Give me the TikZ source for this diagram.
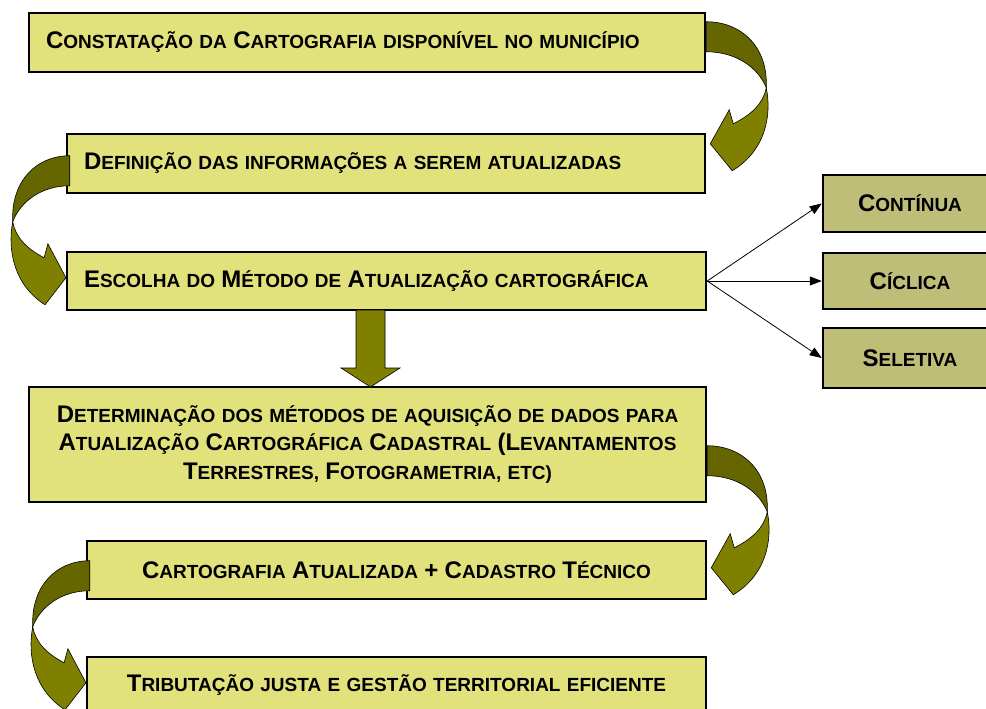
\documentclass[tikz,border=0pt]{standalone}
\usepackage{fontspec}
\setmainfont{Liberation Sans}
\usetikzlibrary{arrows.meta,calc}
\definecolor{boxyellow}{RGB}{226,226,124}
\definecolor{boxolive}{RGB}{190,190,120}
\definecolor{arrdark}{RGB}{102,102,0}
\definecolor{arrlight}{RGB}{128,128,0}
\newcommand\Bg[1]{{\fontsize{24}{28}\selectfont #1}}
\tikzset{
  curvarrow/.pic={
    \filldraw[fill=arrdark, draw=black, line width=0.6pt]
      (0,0) .. controls (35,0) and (62,25) .. (60,66)
      .. controls (52,46) and (30,30) .. (0,30) -- cycle;
    \filldraw[fill=arrlight, draw=black, line width=0.6pt]
      (60,66) .. controls (66,95) and (58,130) .. (26,149)
      -- (4,122) -- (23,88) -- (27,102)
      .. controls (45,93) and (57,82) .. (60,66) -- cycle;
  }
}
\begin{document}
\begin{tikzpicture}[x=1pt,y=-1pt,
  box/.style={draw=black, line width=2.5pt, fill=boxyellow, inner xsep=17pt, inner ysep=0pt,
    font=\fontsize{19}{28.5}\selectfont\bfseries},
  sbox/.style={draw=black, line width=2.5pt, fill=boxolive, minimum width=174pt, inner sep=0pt,
    font=\fontsize{19}{28.5}\selectfont\bfseries, align=center},
  conn/.style={-{Triangle[length=12pt,width=9pt]}, line width=0.8pt}
  ]
\useasboundingbox (0,0) rectangle (986,709);
\clip (0,0) rectangle (986,709);

\node[box, text width=642pt, minimum height=59pt, align=left] (b1) at (367,42.5)
  {\Bg{C}ONSTATAÇÃO DA \Bg{C}ARTOGRAFIA DISPONÍVEL NO MUNICÍPIO};
\node[box, text width=604pt, minimum height=59pt, align=left] (b2) at (386,163.5)
  {\Bg{D}EFINIÇÃO DAS INFORMAÇÕES A SEREM ATUALIZADAS};
\node[box, text width=605pt, minimum height=58pt, align=left] (b3) at (386.5,281)
  {\Bg{E}SCOLHA DO \Bg{M}ÉTODO DE \Bg{A}TUALIZAÇÃO CARTOGRÁFICA};
\node[box, text width=643pt, minimum height=115pt, align=center] (b4) at (367.5,444.5)
  {\Bg{D}ETERMINAÇÃO DOS MÉTODOS DE AQUISIÇÃO DE DADOS PARA\\
   \Bg{A}TUALIZAÇÃO \Bg{C}ARTOGRÁFICA \Bg{C}ADASTRAL \Bg{(L}EVANTAMENTOS\\
   \Bg{T}ERRESTRES, \Bg{F}OTOGRAMETRIA, ETC)};
\node[box, text width=585pt, minimum height=58pt, align=center] (b5) at (396.5,570)
  {\Bg{C}ARTOGRAFIA \Bg{A}TUALIZADA \Bg{+} \Bg{C}ADASTRO \Bg{T}ÉCNICO};
\node[box, text width=585pt, minimum height=56pt, align=center] (b6) at (396.5,685)
  {\Bg{T}RIBUTAÇÃO JUSTA E GESTÃO TERRITORIAL EFICIENTE};

\node[sbox, minimum height=57pt] (c1) at (910,203.5) {\Bg{C}ONTÍNUA};
\node[sbox, minimum height=56pt] (c2) at (910,281) {\Bg{C}ÍCLICA};
\node[sbox, minimum height=60pt] (c3) at (910,358) {\Bg{S}ELETIVA};

\draw[conn] (b3.east) -- (c1.west);
\draw[conn] (b3.east) -- (c2.west);
\draw[conn] (b3.east) -- (c3.west);

\pic at ($(b1.north east)+(0,10)$) {curvarrow};
\pic[xscale=-0.95] at ($(b2.north west)+(4,23)$) {curvarrow};
\pic at ($(b4.north east)+(0,60)$) {curvarrow};
\pic[xscale=-0.95] at ($(b5.north west)+(4,21)$) {curvarrow};

\filldraw[fill=arrlight, draw=black, line width=0.6pt]
  (356,310) -- (385,310) -- (385,368) -- (400,368) -- (370.5,387)
  -- (341,368) -- (356,368) -- cycle;
\end{tikzpicture}
\end{document}
